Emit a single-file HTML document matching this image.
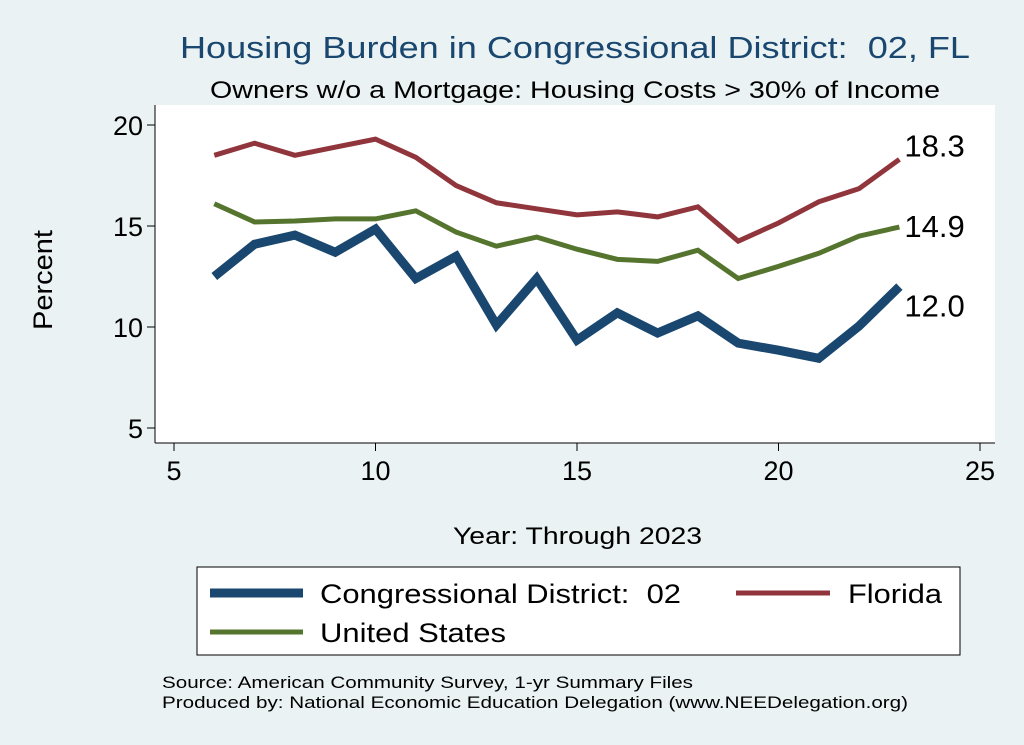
<!DOCTYPE html>
<html><head><meta charset="utf-8"><style>
body{margin:0;background:#eaf2f3;}
svg{display:block;font-family:"Liberation Sans",Arial,sans-serif;}
text{white-space:pre;}
</style></head><body>
<svg id="chart" width="1024" height="745" viewBox="0 0 1024 745">
<rect x="0" y="0" width="1024" height="745" fill="#eaf2f3"/>
<rect x="155" y="105" width="840" height="338" fill="#ffffff"/>
<text x="180" y="58" font-size="31" fill="#1a476f" textLength="790" lengthAdjust="spacingAndGlyphs">Housing Burden in Congressional District:  02, FL</text>
<text x="210" y="98" font-size="24" fill="#000" textLength="730" lengthAdjust="spacingAndGlyphs">Owners w/o a Mortgage: Housing Costs &gt; 30% of Income</text>
<g id="axes"></g>
<g id="series"></g>
<text x="52" y="280" text-anchor="middle" font-size="27" transform="rotate(-90 52 280)" textLength="100" lengthAdjust="spacingAndGlyphs">Percent</text>
<text x="453" y="544" font-size="24" textLength="249" lengthAdjust="spacingAndGlyphs">Year: Through 2023</text>
<g>
<rect x="197" y="567" width="763" height="88" fill="#fff" stroke="#000" stroke-width="1"/>
<line x1="210" y1="593" x2="303" y2="593" stroke="#1a476f" stroke-width="9"/>
<text x="320" y="603" font-size="27" textLength="361" lengthAdjust="spacingAndGlyphs">Congressional District:  02</text>
<line x1="736" y1="593" x2="830" y2="593" stroke="#90353b" stroke-width="5"/>
<text x="848" y="603" font-size="27" textLength="94" lengthAdjust="spacingAndGlyphs">Florida</text>
<line x1="210" y1="632" x2="303" y2="632" stroke="#55752f" stroke-width="5"/>
<text x="320" y="642" font-size="27" textLength="186" lengthAdjust="spacingAndGlyphs">United States</text>
</g>
<text x="162" y="688" font-size="17" textLength="531" lengthAdjust="spacingAndGlyphs">Source: American Community Survey, 1-yr Summary Files</text>
<text x="162" y="708" font-size="17" textLength="746" lengthAdjust="spacingAndGlyphs">Produced by: National Economic Education Delegation (www.NEEDelegation.org)</text>
</svg>
<script>
const years=[6,7,8,9,10,11,12,13,14,15,16,17,18,19,20,21,22,23];
const cd02=[12.5,14.1,14.55,13.7,14.85,12.4,13.5,10.1,12.4,9.35,10.7,9.7,10.55,9.2,8.85,8.45,10.05,12.0];
const florida=[18.5,19.1,18.5,18.9,19.3,18.4,17.0,16.15,15.85,15.55,15.7,15.45,15.95,14.25,15.15,16.2,16.85,18.3];
const us=[16.1,15.2,15.25,15.35,15.35,15.75,14.7,14.0,14.45,13.85,13.35,13.25,13.8,12.4,13.0,13.65,14.5,14.95];
const xTicks=[5,10,15,20,25];
const yTicks=[5,10,15,20];
const endLabels=["18.3","14.9","12.0"];

const NS="http://www.w3.org/2000/svg";
function X(v){return 174+(v-5)*40.3;}
function Y(v){return 428-(v-5)*20.2;}
function mk(tag,attrs,parent){const e=document.createElementNS(NS,tag);for(const k in attrs)e.setAttribute(k,attrs[k]);parent.appendChild(e);return e;}
const axes=document.getElementById('axes');
const ser=document.getElementById('series');
let yl=mk('line',{x1:155,y1:105,x2:155,y2:443,stroke:'#000','stroke-width':1},axes);


let xl=mk('line',{x1:155,y1:443,x2:995,y2:443,stroke:'#000','stroke-width':1},axes);


yTicks.forEach(t=>{
 const l=mk('line',{x1:147,y1:Y(t),x2:155,y2:Y(t),stroke:'#000'},axes);
 
 
 const tx=mk('text',{x:143,y:Y(t)+10,'text-anchor':'end','font-size':27},axes);
 tx.textContent=t;
 
 
});
xTicks.forEach(t=>{
 const l=mk('line',{x1:X(t),y1:443,x2:X(t),y2:451,stroke:'#000'},axes);
 
 
 const tx=mk('text',{x:X(t),y:480,'text-anchor':'middle','font-size':27},axes);
 tx.textContent=t;
 
 
});
function line(vals,color,w,name){
 const d=vals.map((v,i)=>(i?'L':'M')+X(years[i])+','+Y(v)).join(' ');
 const p=mk('path',{d:d,fill:'none',stroke:color,'stroke-width':w,'stroke-linejoin':'miter'},ser);
 
 
}
line(us,'#55752f',5,'line-united-states');
line(florida,'#90353b',5,'line-florida');
line(cd02,'#1a476f',9,'line-cd02');
const last=years.length-1;
const ends=[[florida,endLabels[0],-3],[us,endLabels[1],10],[cd02,endLabels[2],30]];
ends.forEach(([s,lab,dy],i)=>{
 const tx=mk('text',{x:X(years[last])+5,y:Y(s[last])+dy,'font-size':31},ser);
 tx.textContent=lab;
 
 
});
</script>
</body></html>
